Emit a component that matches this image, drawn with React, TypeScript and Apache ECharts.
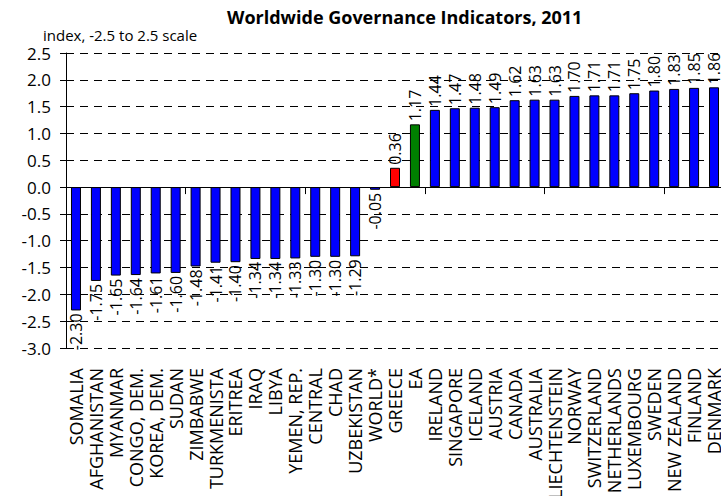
import React, { useEffect, useRef } from "react";
import * as echarts from "echarts";

const categories = [
  "SOMALIA", "AFGHANISTAN", "MYANMAR", "CONGO, DEM.", "KOREA, DEM.", "SUDAN", "ZIMBABWE",
  "TURKMENISTA", "ERITREA", "IRAQ", "LIBYA", "YEMEN, REP.", "CENTRAL", "CHAD", "UZBEKISTAN",
  "WORLD*", "GREECE", "EA", "IRELAND", "SINGAPORE", "ICELAND", "AUSTRIA", "CANADA",
  "AUSTRALIA", "LIECHTENSTEIN", "NORWAY", "SWITZERLAND", "NETHERLANDS", "LUXEMBOURG",
  "SWEDEN", "NEW ZEALAND", "FINLAND", "DENMARK",
];

const values = [
  -2.30, -1.75, -1.65, -1.64, -1.61, -1.60, -1.48, -1.41, -1.40, -1.34, -1.34, -1.33, -1.30,
  -1.30, -1.29, -0.05, 0.36, 1.17, 1.44, 1.47, 1.48, 1.49, 1.62, 1.63, 1.63, 1.70, 1.71, 1.71,
  1.75, 1.80, 1.83, 1.85, 1.86,
];

const highlight: Record<string, string> = { GREECE: "#ff0000", EA: "#008000" };
const baseColor = "#0000ff";

const FONT = "'Open Sans', 'Noto Sans', sans-serif";

export default function App() {
  const ref = useRef<HTMLDivElement>(null);
  useEffect(() => {
    if (!ref.current) return;
    const chart = echarts.init(ref.current, undefined, { renderer: "svg" });
    const data = values.map((v, i) => ({
      value: v,
      itemStyle: { color: highlight[categories[i]] || baseColor },
      label:
        v >= 0
          ? { position: "top", align: "left", verticalAlign: "middle" }
          : { position: "bottom", align: "right", verticalAlign: "middle" },
    }));
    const yCommon = {
      type: "value",
      min: -3,
      max: 2.5,
      interval: 0.5,
      position: "left",
    };
    chart.setOption({
      animation: false,
      textStyle: { fontFamily: FONT },
      title: [
        {
          text: "Worldwide Governance Indicators, 2011",
          left: 222,
          top: 3,
          textStyle: { fontFamily: FONT, fontWeight: "bold", fontSize: 18, color: "#000" },
        },
        {
          text: "index, -2.5 to 2.5 scale",
          left: 38,
          top: 22,
          textStyle: { fontFamily: FONT, fontWeight: "normal", fontSize: 15, color: "#000" },
        },
      ],
      grid: {
        left: 66,
        top: 53,
        width: 658,
        bottom: 148,
        containLabel: false,
        outerBoundsMode: "none",
      },
      xAxis: [
        {
          type: "category",
          data: categories,
          axisLine: { show: true, onZero: true, lineStyle: { color: "#000", width: 1 } },
          axisTick: { show: true, length: 7, lineStyle: { color: "#000" } },
          axisLabel: { show: false },
          splitLine: { show: false },
        },
        {
          type: "category",
          data: categories,
          position: "bottom",
          axisLine: { show: false, onZero: false },
          axisTick: { show: false },
          axisLabel: {
            show: true,
            interval: 0,
            rotate: 90,
            margin: 20,
            fontSize: 18,
            color: "#000",
            fontFamily: FONT,
          },
        },
      ],
      yAxis: [
        {
          ...yCommon,
          axisLine: { show: true, lineStyle: { color: "#000" } },
          axisTick: { show: true, length: 6, lineStyle: { color: "#000" } },
          axisLabel: {
            fontSize: 17,
            color: "#000",
            margin: 15,
            fontFamily: FONT,
            formatter: (v: number) => v.toFixed(1),
          },
          splitLine: { show: true, lineStyle: { color: "#000", type: [8, 6], width: 1 } },
        },
        {
          ...yCommon,
          axisLine: { show: false },
          axisTick: { show: true, inside: true, length: 6, lineStyle: { color: "#000" } },
          axisLabel: { show: false },
          splitLine: { show: false },
        },
      ],
      series: [
        {
          type: "bar",
          data,
          barWidth: 10,
          xAxisIndex: 0,
          yAxisIndex: 0,
          itemStyle: { borderColor: "#000", borderWidth: 1 },
          label: {
            show: true,
            rotate: 90,
            distance: 3,
            fontSize: 16,
            color: "#000",
            fontFamily: FONT,
            formatter: (p: any) => Number(p.value).toFixed(2),
          },
        },
      ],
    });
    return () => chart.dispose();
  }, []);
  return (
    <div
      ref={ref}
      style={{ position: "fixed", left: 0, top: 0, width: 721, height: 496, background: "#fff" }}
    />
  );
}
